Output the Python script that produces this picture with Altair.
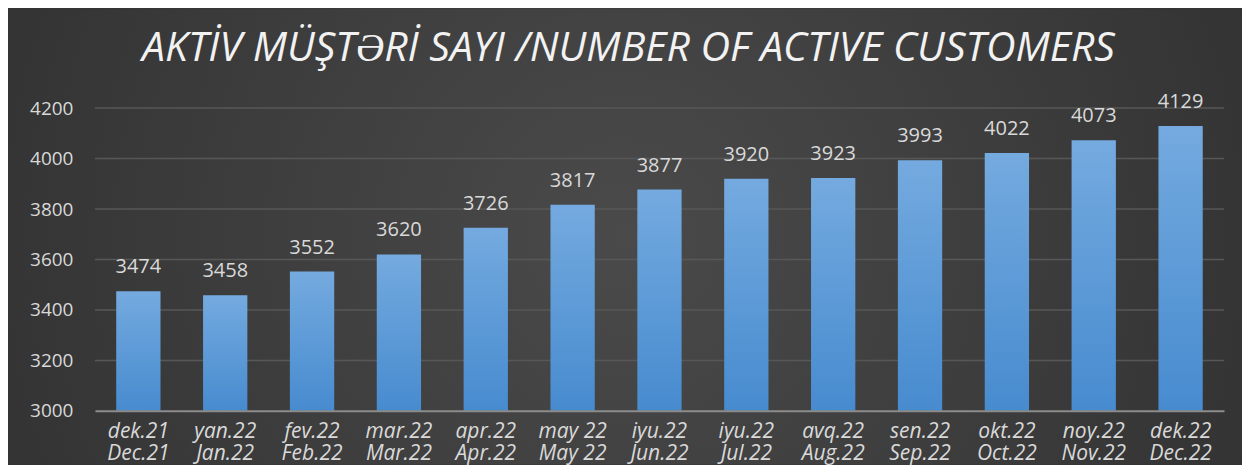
import altair as alt
import pandas as pd

months_az = ["dek.21", "yan.22", "fev.22", "mar.22", "apr.22", "may 22", "iyu.22",
             "iyu.22 ", "avq.22", "sen.22", "okt.22", "noy.22", "dek.22"]
months_en = ["Dec.21", "Jan.22", "Feb.22", "Mar.22", "Apr.22", "May 22", "Jun.22",
             "Jul.22", "Aug.22", "Sep.22", "Oct.22", "Nov.22", "Dec.22"]
customers = [3474, 3458, 3552, 3620, 3726, 3817, 3877, 3920, 3923, 3993, 4022, 4073, 4129]
y_ticks = [3000, 3200, 3400, 3600, 3800, 4000, 4200]

labels = [a.strip() + "|" + e for a, e in zip(months_az, months_en)]
df = pd.DataFrame({"month": labels, "value": customers})
grid_df = pd.DataFrame({"tick": y_ticks[1:]})

FONT = "Open Sans"

x_enc = alt.X("month:N", sort=None, title=None,
              scale=alt.Scale(paddingInner=0.49, paddingOuter=0.245),
              axis=alt.Axis(labelExpr="split(datum.label, '|')", labelAngle=0,
                            labelFont=FONT, labelFontSize=21, labelFontStyle="italic",
                            labelColor="#d9d9d9", labelPadding=10, labelLineHeight=22,
                            ticks=False, domainColor="#8c8c8c", domainWidth=2,
                            grid=False, labelBaseline="top", zindex=2))
y_enc = alt.Y("value:Q", title=None,
              scale=alt.Scale(domain=[3000, 4200], nice=False, zero=False),
              axis=alt.Axis(values=y_ticks, format="d", labelFont=FONT, labelFontSize=19,
                            labelColor="#d9d9d9", labelPadding=22, ticks=False,
                            domain=False, grid=False, zindex=1))

bg = alt.Chart(pd.DataFrame({"a": [0]})).mark_rect(
    clip=False,
    color=alt.Gradient(gradient="radial",
                       stops=[alt.GradientStop(color="#4a4a4a", offset=0),
                              alt.GradientStop(color="#2a2a2a", offset=1)],
                       x1=0.5, y1=0.5, r1=0, x2=0.5, y2=0.5, r2=0.75)
).encode(x=alt.value(-90), x2=alt.value(1148), y=alt.value(-100), y2=alt.value(357))

grid = alt.Chart(grid_df).mark_rule(color="#575757", strokeWidth=1.5).encode(
    y=alt.Y("tick:Q", scale=alt.Scale(domain=[3000, 4200], nice=False, zero=False)),
    x=alt.value(0), x2=alt.value(1130))

bars = alt.Chart(df).mark_bar(
    color=alt.Gradient(gradient="linear",
                       stops=[alt.GradientStop(color="#74aadf", offset=0),
                              alt.GradientStop(color="#478bcf", offset=1)],
                       x1=0, x2=0, y1=0, y2=1)
).encode(x=x_enc, y=y_enc, y2=alt.datum(3000))

text = alt.Chart(df).mark_text(
    font=FONT, fontSize=20, color="#d9d9d9", baseline="bottom", dy=-14
).encode(x=alt.X("month:N", sort=None), y=alt.Y("value:Q"), text=alt.Text("value:Q"))

chart = alt.layer(bg, grid, bars, text).properties(
    width=1130, height=303,
    autosize=alt.AutoSizeParams(type="none"),
    padding={"left": 87, "top": 100, "right": 18, "bottom": 54},
    background="#303030",
    title=alt.TitleParams("AKTİV MÜŞTƏRİ SAYI /NUMBER OF ACTIVE CUSTOMERS",
                          font=FONT, fontSize=41, fontStyle="italic", fontWeight="normal",
                          color="#f2f2f2", anchor="middle", offset=0, dy=62, dx=-31,
                          zindex=3)
).configure_view(stroke=None)

chart.save("out.html", embed_options={"renderer": "svg", "actions": False})
